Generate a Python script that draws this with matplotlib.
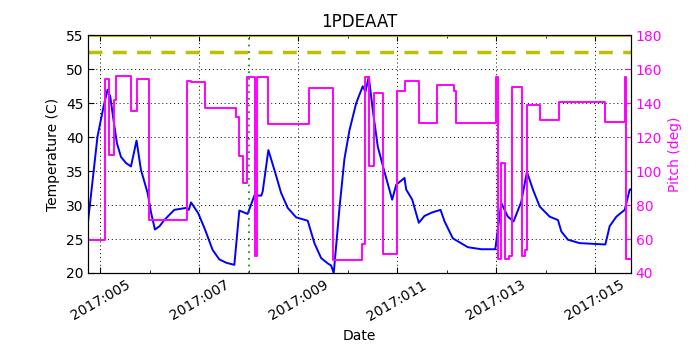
"""1PDEAAT temperature and pitch versus date."""

from datetime import datetime, timedelta

import matplotlib
matplotlib.use("Agg")
import matplotlib.dates as mdates
import matplotlib.pyplot as plt

plt.rcParams["font.family"] = "DejaVu Sans"
plt.rcParams["font.size"] = 10

# day of year 2017 -> temperature (C)
temp_days = [4.757, 4.945, 5.067, 5.148, 5.202, 5.269, 5.338, 5.419, 5.52, 5.621,
             5.734, 5.823, 5.957, 6.03, 6.106, 6.2, 6.294, 6.497, 6.746, 6.79,
             6.835, 6.98, 7.118, 7.271, 7.407, 7.55, 7.710, 7.811, 7.979, 8.115,
             8.256, 8.283, 8.398, 8.519, 8.655, 8.788, 8.958, 9.193, 9.328, 9.464,
             9.60, 9.666, 9.719, 9.834, 9.935, 10.036, 10.172, 10.305, 10.360, 10.427,
             10.508, 10.609, 10.744, 10.900, 10.981, 11.149, 11.183, 11.305, 11.438, 11.553,
             11.700, 11.877, 11.958, 12.126, 12.429, 12.700, 12.983, 13.105, 13.238, 13.353,
             13.509, 13.623, 13.744, 13.880, 14.082, 14.250, 14.319, 14.452, 14.689, 15.208,
             15.295, 15.430, 15.599, 15.700, 15.720]
temp_vals = [27.8, 40.1, 44.5, 47.0, 46.0, 42.5, 39.1, 37.1, 36.2, 35.7,
             39.5, 35.2, 31.8, 28.8, 26.4, 26.9, 27.8, 29.3, 29.6, 29.3,
             30.4, 28.8, 26.4, 23.4, 22.0, 21.5, 21.2, 29.2, 28.7, 31.4,
             31.4, 32.0, 38.1, 35.2, 31.8, 29.6, 28.2, 27.7, 24.4, 22.2,
             21.4, 21.1, 20.0, 29.5, 36.8, 41.0, 45.0, 47.5, 46.7, 48.9,
             44.0, 38.6, 34.9, 30.8, 33.0, 34.0, 32.3, 30.8, 27.4, 28.4,
             28.9, 29.3, 27.6, 25.1, 23.8, 23.5, 23.5, 30.3, 28.3, 27.6,
             30.5, 34.9, 32.3, 29.8, 28.3, 27.8, 26.1, 24.9, 24.4, 24.2,
             26.9, 28.3, 29.3, 32.3, 32.3]

# day of year 2017 -> pitch (deg), piecewise constant
pitch_days = [4.757, 5.101, 5.168, 5.283, 5.318, 5.621, 5.742, 5.991, 6.746, 6.841,
              7.118, 7.745, 7.797, 7.878, 7.967, 8.125, 8.161, 8.384, 9.227, 9.699,
              10.293, 10.360, 10.427, 10.542, 10.710, 11.001, 11.169, 11.452, 11.810, 12.146,
              12.195, 13.004, 13.030, 13.105, 13.172, 13.252, 13.323, 13.521, 13.576, 13.623,
              13.894, 14.264, 15.208, 15.599, 15.633, 15.720]
pitch_vals = [59.6, 154.0, 109.6, 142.0, 156.0, 135.5, 154.1, 71.4, 153.3, 152.3,
              137.0, 132.1, 109.0, 93.0, 155.6, 49.8, 155.6, 127.8, 148.8, 47.4,
              57.2, 155.6, 103.1, 145.9, 51.4, 147.2, 153.1, 128.2, 150.8, 147.4,
              128.6, 155.6, 48.2, 104.7, 48.2, 49.9, 149.4, 50.2, 53.3, 139.0,
              130.2, 141.0, 128.8, 155.3, 48.2, 48.2]

planning_limit = 52.5
top_limit = 55.0
marker_day = 8.0

x_start, x_end = 4.757, 15.72


def doy(d):
    return datetime(2016, 12, 31) + timedelta(days=d)


fig = plt.figure(figsize=(7, 3.5), dpi=100, facecolor="white")
ax = fig.add_axes([0.126, 0.22, 0.775, 0.679])

ax.plot([doy(d) for d in temp_days], temp_vals, color="blue", lw=1.4)
ax.axhline(planning_limit, color="#bfbf00", ls="--", lw=2.5, dashes=(4, 3))
ax.axhline(top_limit, color="#bfbf00", lw=2)
ax.axvline(doy(marker_day), color="green", ls=(0, (1, 3)), lw=1.2)

ax.set_xlim(doy(x_start), doy(x_end))
ax.set_ylim(20, 55)
ax.set_yticks(range(20, 56, 5))
ax.xaxis.set_major_locator(mdates.DayLocator(bymonthday=range(5, 32, 2)))
ax.xaxis.set_minor_locator(mdates.DayLocator())
ax.xaxis.set_major_formatter(mdates.DateFormatter("%Y:%j"))
ax.tick_params(which="both", direction="in", top=True)
ax.tick_params(which="major", length=4)
ax.tick_params(which="minor", length=2)
for lbl in ax.get_xticklabels():
    lbl.set_rotation(30)
    lbl.set_ha("center")
ax.grid(True, color="black", ls=(0, (1, 3)), lw=0.7)
ax.set_xlabel("Date")
ax.set_ylabel("Temperature (C)")
ax.set_title("1PDEAAT", fontsize=12)

ax2 = ax.twinx()
ax2.plot([doy(d) for d in pitch_days], pitch_vals, color="magenta", lw=1.4,
         drawstyle="steps-post")
ax2.set_ylim(40, 180)
ax2.set_yticks(range(40, 181, 20))
ax2.tick_params(direction="in", colors="magenta", length=4)
ax2.set_ylabel("Pitch (deg)", color="magenta")
ax2.set_xlim(doy(x_start), doy(x_end))

fig.savefig("out.png", dpi=100, facecolor="white")
